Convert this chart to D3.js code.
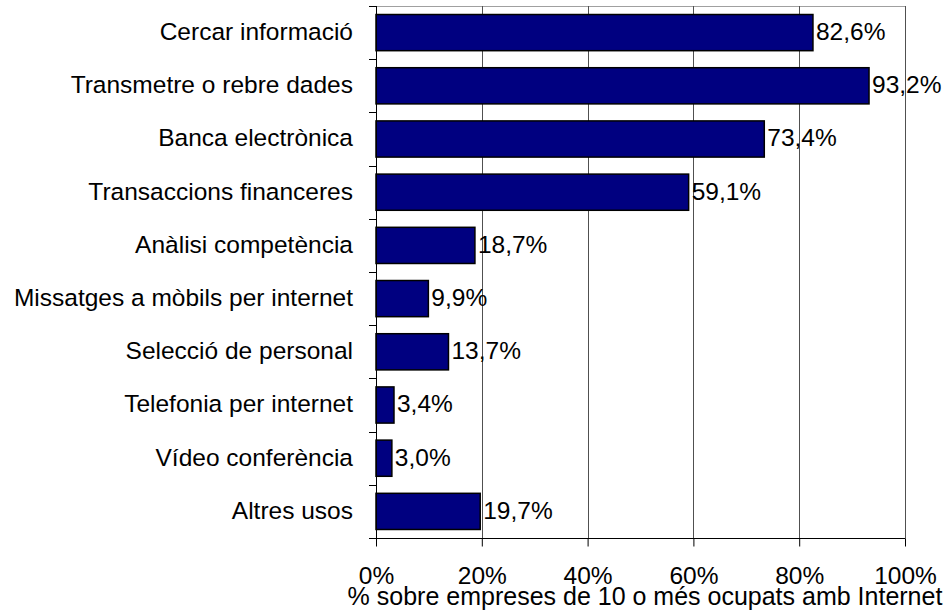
<!DOCTYPE html>
<html>
<head>
<meta charset="utf-8">
<script src="https://cdn.jsdelivr.net/npm/d3@7"></script>
<style>
  body { margin: 0; background: #fff; }
  text { font-family: "Liberation Sans", Arial, sans-serif; fill: #000; }
</style>
</head>
<body>
<svg width="948" height="611"></svg>
<script>
var categories = [
  "Cercar informació",
  "Transmetre o rebre dades",
  "Banca electrònica",
  "Transaccions financeres",
  "Anàlisi competència",
  "Missatges a mòbils per internet",
  "Selecció de personal",
  "Telefonia per internet",
  "Vídeo conferència",
  "Altres usos"
];
var values = [82.6, 93.2, 73.4, 59.1, 18.7, 9.9, 13.7, 3.4, 3.0, 19.7];
var ticks = [0, 20, 40, 60, 80, 100];
var axisTitle = "% sobre empreses de 10 o més ocupats amb Internet";

function main() {
  var svg = d3.select("svg"),
    plotLeft = 376,
    plotRight = 905,
    plotTop = 6,
    plotBottom = 538,
    fontSize = 24.5;

  var x = d3.scaleLinear().domain([0, 100]).range([plotLeft, plotRight]);
  var y = d3.scaleBand().domain(categories).range([plotTop, plotBottom]).paddingInner(0.32).paddingOuter(0.16);

  var fmt = (v) => v.toFixed(1).replace(".", ",") + "%";

  // plot frame (top and right)
  svg.append("path")
    .attr("d", "M" + plotLeft + "," + (plotTop + 0.5) + "H" + (plotRight + 0.5) + "V" + plotBottom)
    .attr("fill", "none")
    .attr("stroke", "#a0a0a0")
    .attr("stroke-width", 1);

  // vertical gridlines
  svg.append("g")
    .selectAll("line")
    .data(ticks.slice(1))
    .enter()
    .append("line")
    .attr("x1", (d) => Math.round(x(d)) + 0.5)
    .attr("x2", (d) => Math.round(x(d)) + 0.5)
    .attr("y1", plotTop)
    .attr("y2", plotBottom)
    .attr("stroke", "#505050")
    .attr("stroke-width", 1);

  // bars
  svg.append("g")
    .selectAll("rect")
    .data(values)
    .enter()
    .append("rect")
    .attr("x", x(0))
    .attr("y", (d, i) => y(categories[i]))
    .attr("width", (d) => x(d) - x(0))
    .attr("height", y.bandwidth())
    .attr("fill", "#000080")
    .attr("stroke", "#000")
    .attr("stroke-width", 1.5);

  // value labels
  svg.append("g")
    .selectAll("text")
    .data(values)
    .enter()
    .append("text")
    .attr("x", (d) => x(d) + 3)
    .attr("y", (d, i) => y(categories[i]) + y.bandwidth() / 2)
    .attr("dy", "0.3em")
    .attr("font-size", fontSize)
    .text(fmt);

  // left axis with ticks at band boundaries
  var bounds = d3.range(categories.length + 1).map((i) => plotTop + i * y.step());
  svg.append("g")
    .selectAll("line")
    .data(bounds)
    .enter()
    .append("line")
    .attr("x1", plotLeft - 7)
    .attr("x2", plotLeft)
    .attr("y1", (d) => Math.round(d) + 0.5)
    .attr("y2", (d) => Math.round(d) + 0.5)
    .attr("stroke", "#000");
  svg.append("line")
    .attr("x1", plotLeft + 0.5)
    .attr("x2", plotLeft + 0.5)
    .attr("y1", plotTop)
    .attr("y2", plotBottom)
    .attr("stroke", "#000");

  svg.append("g")
    .selectAll("text")
    .data(categories)
    .enter()
    .append("text")
    .attr("x", 353)
    .attr("y", (d) => y(d) + y.bandwidth() / 2)
    .attr("dy", "0.3em")
    .attr("text-anchor", "end")
    .attr("font-size", fontSize)
    .text((d) => d);

  // bottom axis
  var xAxis = svg.append("g")
    .attr("transform", "translate(0," + (plotBottom + 0.5) + ")")
    .call(d3.axisBottom(x).tickValues(ticks).tickSize(8).tickPadding(20).tickFormat((d) => d + "%"));
  xAxis.select(".domain").attr("stroke", "#000").attr("d", "M" + plotLeft + ",0H" + (plotRight + 0.5));
  xAxis.selectAll(".tick line").attr("stroke", "#000");
  xAxis.selectAll(".tick text")
    .attr("font-size", fontSize)
    .attr("font-family", "Liberation Sans, Arial, sans-serif");

  svg.append("text")
    .attr("x", 645)
    .attr("y", 605)
    .attr("text-anchor", "middle")
    .attr("font-size", 25)
    .text(axisTitle);
}

main();
</script>
</body>
</html>
